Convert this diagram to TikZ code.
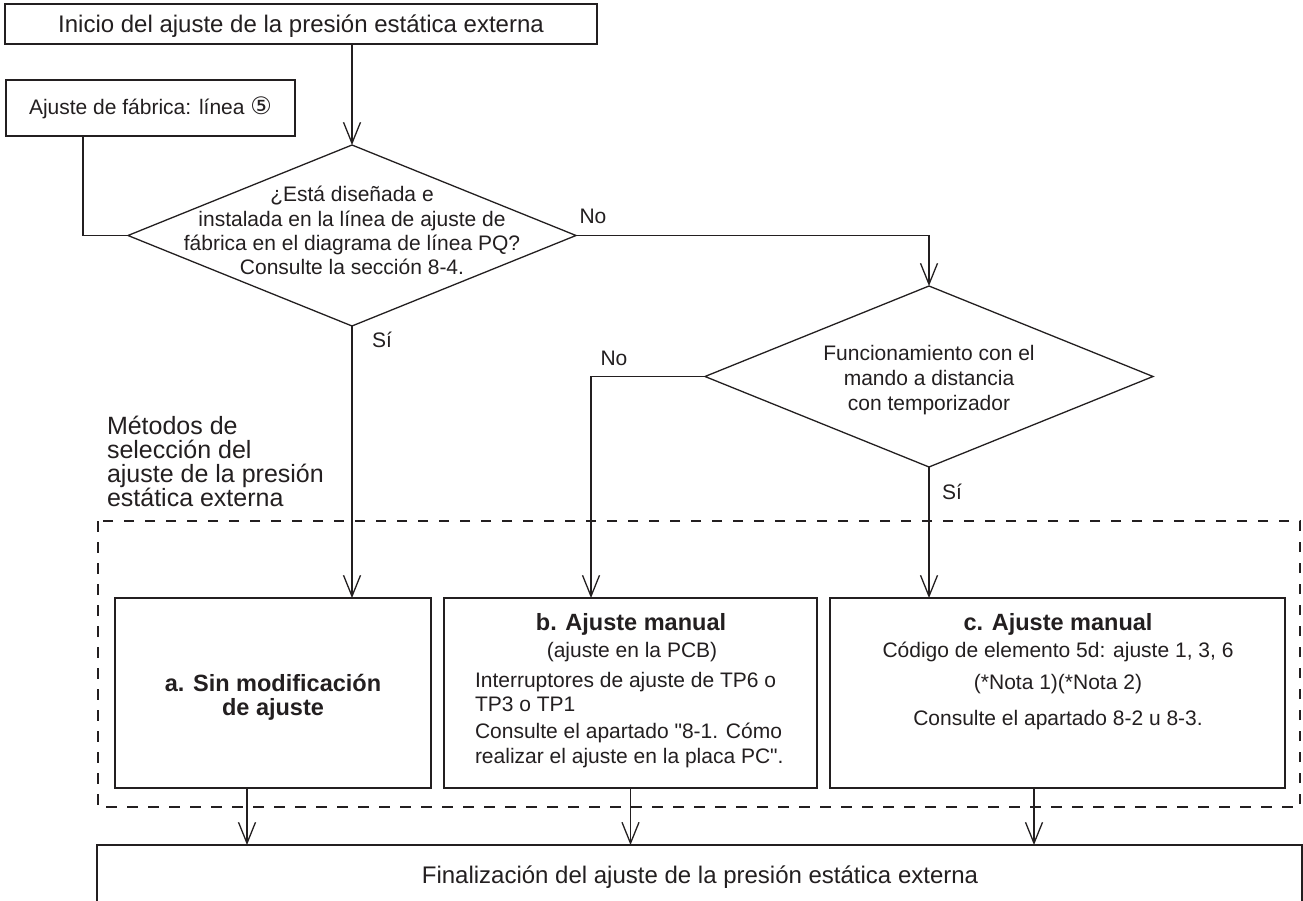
\documentclass[tikz,border=0pt]{standalone}
\usepackage{fontspec}
\setmainfont{Liberation Sans}
\newfontfamily\symfont{DejaVu Sans}
\newfontfamily\plainfont{Liberation Sans}
\usetikzlibrary{arrows.meta,shapes.geometric,calc}
\definecolor{ink}{RGB}{35,31,32}
\begin{document}
\begin{tikzpicture}[x=1pt,y=-1pt,
  every node/.style={text=ink, inner sep=0pt, outer sep=0pt},
  boxst/.style={draw=ink, line width=1.3pt, rectangle},
  dia/.style={draw=ink, line width=1.3pt, shape=diamond, minimum width=448pt, minimum height=181pt},
  conn/.style={draw=ink, line width=1.3pt},
  arr/.style={conn, -{Straight Barb[length=21pt,width=17pt,line width=1.3pt]}},
  body/.style={font=\fontsize{21}{25}\selectfont, anchor=base},
  bodyl/.style={font=\fontsize{21}{25}\selectfont, anchor=base west},
  big/.style={font=\fontsize{24}{28}\selectfont, anchor=base},
  head/.style={font=\fontsize{23.5}{28}\selectfont\bfseries, anchor=base},
  meth/.style={font=\fontsize{25}{28}\selectfont, anchor=base west},
  dashbox/.style={draw=ink, line width=2.4pt, dash pattern=on 10.5pt off 10.5pt}
]
\fill[white] (0,0) rectangle (1303,901);
\useasboundingbox (0,0) rectangle (1303,901);

% boxes
\node[boxst, minimum width=592pt, minimum height=40pt] (top) at (301,24) {};
\node[big] (toptxt) at (301,32.5) {Inicio del ajuste de la presión estática externa};

\node[boxst, minimum width=289pt, minimum height=56pt] (fac) at (150.5,108) {};
\node[body] (factxt) at (150.5,115) {Ajuste de fábrica: línea {\symfont\fontsize{24}{28}\selectfont ⑤}};

% diamonds
\node[dia] (d1) at (352,235.5) {};
\node[body] (d1l1) at (352,202) {¿Está diseñada e};
\node[body] (d1l2) at (352,226.3) {instalada en la línea de ajuste de};
\node[body] (d1l3) at (352,250.7) {fábrica en el diagrama de línea PQ?};
\node[body] (d1l4) at (352,275) {Consulte la sección 8-4.};

\node[dia] (d2) at (929,376.5) {};
\node[body] (d2l1) at (929,360) {Funcionamiento con el};
\node[body] (d2l2) at (929,385) {mando a distancia};
\node[body] (d2l3) at (929,410) {con temporizador};

% labels
\node[body] (no1) at (593,224) {No};
\node[body] (si1) at (382,347) {Sí};
\node[body] (no2) at (614,365) {No};
\node[body] (si2) at (952,499) {Sí};

\node[meth] (m1) at (107,434) {Métodos de};
\node[meth] (m2) at (107,458) {selección del};
\node[meth] (m3) at (107,482) {ajuste de la presión};
\node[meth] (m4) at (107,506) {estática externa};

% dashed group
\draw[dashbox] (98,521) rectangle (1300,807);

% option boxes
\node[boxst, minimum width=316pt, minimum height=190pt] (a) at (273,693) {};
\node[head] (a1) at (273,691.5) {a. Sin modificación};
\node[head] (a2) at (273,715.5) {de ajuste};

\node[boxst, minimum width=373pt, minimum height=190pt] (b) at (630.5,693) {};
\node[head] (b1) at (631,630.5) {b. Ajuste manual};
\node[body] (b2) at (632,657) {(ajuste en la PCB)};
\node[bodyl] (b3) at (475,687) {Interruptores de ajuste de TP6 o};
\node[bodyl] (b4) at (475,711) {TP3 o TP1};
\node[bodyl] (b5) at (475,738) {Consulte el apartado {\plainfont "}8-1. Cómo};
\node[bodyl] (b6) at (475,763) {realizar el ajuste en la placa PC{\plainfont "}.};

\node[boxst, minimum width=455pt, minimum height=190pt] (c) at (1057.5,693) {};
\node[head] (c1) at (1058,630.5) {c. Ajuste manual};
\node[body] (c2) at (1058,657) {Código de elemento 5d: ajuste 1, 3, 6};
\node[body] (c3) at (1058,689) {(*Nota 1)(*Nota 2)};
\node[body] (c4) at (1058,725) {Consulte el apartado 8-2 u 8-3.};

\node[boxst, minimum width=1205pt, minimum height=60pt] (fin) at (699.5,875) {};
\node[big] (fintxt) at (700,883.5) {Finalización del ajuste de la presión estática externa};

% connectors
\coordinate (fout) at ($(fac.south)+(-67.5,0)$);
\coordinate (bin) at ($(b.north)+(-39.5,0)$);
\coordinate (aout) at ($(a.south)+(-26,0)$);
\coordinate (cout) at ($(c.south)+(-23.5,0)$);

\draw[arr] (top.south -| d1.north) -- (d1.north);
\draw[conn] (fout) |- (d1.west);
\draw[arr] (d1.east) -| (d2.north);
\draw[arr] (d1.south) -- (d1.south |- a.north);
\draw[arr] (d2.west) -| (bin);
\draw[arr] (d2.south) -- (d2.south |- c.north);
\draw[arr] (aout) -- (aout |- fin.north);
\draw[arr] (b.south) -- (b.south |- fin.north);
\draw[arr] (cout) -- (cout |- fin.north);
\end{tikzpicture}
\end{document}
